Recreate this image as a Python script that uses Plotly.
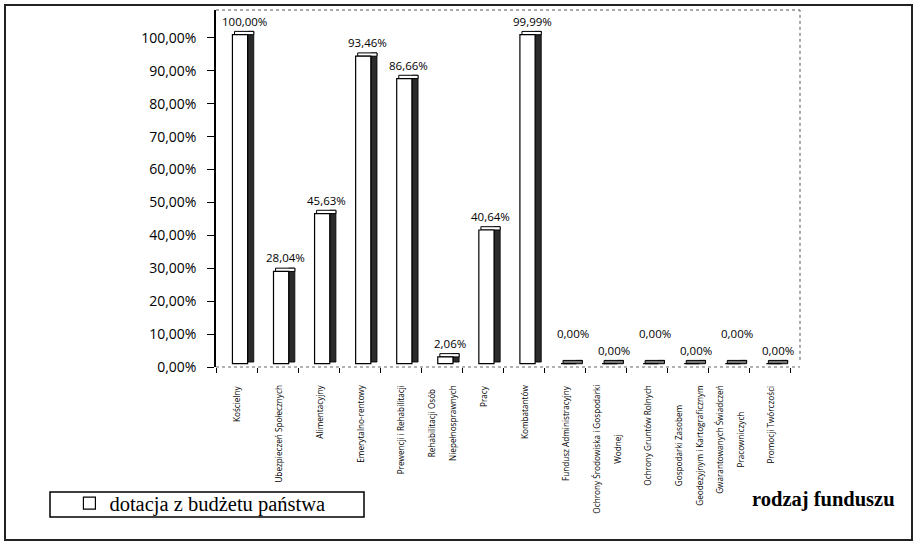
import plotly.graph_objects as go

# ---- data ----
categories = [
    "Kościelny",
    "Ubezpieczeń Społecznych",
    "Alimentacyjny",
    "Emerytalno-rentowy",
    "Prewencji i Rehabilitacji",
    "Rehabilitacji Osób<br> <br>Niepełnosprawnych",
    "Pracy",
    "Kombatantów",
    "Fundusz Administracyjny",
    "Ochrony Środowiska i Gospodarki<br> <br>Wodnej",
    "Ochrony Gruntów Rolnych",
    "Gospodarki Zasobem<br> <br>Geodezyjnym i Kartograficznym",
    "Gwarantowanych Świadczeń<br> <br>Pracowniczych",
    "Promocji Twórczości",
]
values = [100.00, 28.04, 45.63, 93.46, 86.66, 2.06, 40.64, 99.99, 0.00, 0.00, 0.00, 0.00, 0.00, 0.00]
series_name = "dotacja z budżetu państwa"
axis_title = "rodzaj funduszu"
ytick_vals = [0, 10, 20, 30, 40, 50, 60, 70, 80, 90, 100]
ytick_text = [f"{t:.2f}".replace(".", ",") + "%" for t in ytick_vals]
# extra lift (px) of data labels to avoid collisions (as in the original)
label_lift = [0, 0, 0, 0, 0, 0, 0, 0, 17, 0, 17, 0, 17, 0]

# ---- style ----
FLOOR = 1.0      # 3D floor offset (in axis units)
DEPTH = 1.0      # 3D depth (vertical, axis units)
xidx = list(range(len(categories)))

fig = go.Figure()

# side face (dark)
fig.add_trace(go.Bar(
    x=xidx, y=[v + DEPTH * 0.5 for v in values], base=FLOOR + DEPTH * 0.5,
    offset=0.27, width=0.15,
    marker=dict(color="#2b2b2b", line=dict(color="#000", width=0.8)),
    showlegend=False, hoverinfo="skip",
))
# top face
fig.add_trace(go.Bar(
    x=xidx, y=[DEPTH] * len(values), base=[v + FLOOR for v in values],
    offset=-0.05, width=0.47,
    marker=dict(color=["#777" if v == 0 else "white" for v in values],
                line=dict(color="#000", width=1)),
    showlegend=False, hoverinfo="skip",
))
# front face
fig.add_trace(go.Bar(
    x=xidx, y=values, base=FLOOR,
    offset=-0.10, width=0.37,
    name=series_name,
    marker=dict(color="white", line=dict(color="#000", width=1.2)),
    showlegend=True, hoverinfo="skip",
))

annotations = []
# data labels
for i, v in enumerate(values):
    annotations.append(dict(
        x=i, y=v + FLOOR, xref="x", yref="y",
        text=f"{v:.2f}".replace(".", ",") + "%",
        showarrow=False, xanchor="center", yanchor="bottom",
        xshift=8, yshift=4 + label_lift[i],
        font=dict(family="Open Sans, Lato, sans-serif", size=11.5, color="#000"),
    ))
# category labels (rotated, centered lines)
for i, c in enumerate(categories):
    annotations.append(dict(
        x=i, y=0, xref="x", yref="paper",
        text=c, textangle=-90, align="center",
        showarrow=False, xanchor="center", yanchor="top",
        yshift=-16,
        font=dict(family="Open Sans, sans-serif", size=8.2, color="#000"),
    ))
# axis title
annotations.append(dict(
    x=1.166, y=-0.372, xref="paper", yref="paper",
    text="<b>" + axis_title + "</b>", showarrow=False,
    xanchor="right", yanchor="middle",
    font=dict(family="Liberation Serif, Times New Roman, serif", size=20.5, color="#000"),
))

shapes = [
    # outer frame
    dict(type="rect", xref="paper", yref="paper", xsizemode="pixel", ysizemode="pixel",
         xanchor=0, yanchor=0, x0=-211, x1=696, y0=-173, y1=362,
         line=dict(color="#222", width=2)),
    # legend box
    dict(type="rect", xref="paper", yref="paper", xsizemode="pixel", ysizemode="pixel",
         xanchor=0, yanchor=0, x0=-166, x1=148, y0=-150, y1=-125,
         line=dict(color="#000", width=1.5)),
    # plot area top & right (dotted)
    dict(type="line", xref="paper", yref="paper", x0=0, x1=1, y0=1, y1=1,
         line=dict(color="#555", width=1, dash="dot")),
    dict(type="line", xref="paper", yref="paper", x0=1, x1=1, y0=0.02, y1=1,
         line=dict(color="#555", width=1, dash="dot")),
    # x baseline (dotted)
    dict(type="line", xref="paper", yref="paper", x0=0, x1=1, y0=0, y1=0,
         line=dict(color="#666", width=1, dash="dot")),
]

fig.update_layout(
    width=917, height=546,
    margin=dict(l=216, r=117, t=10, b=179),
    paper_bgcolor="white", plot_bgcolor="white",
    barmode="overlay",
    showlegend=True,
    legend=dict(
        x=-0.251, y=-0.326, xanchor="left", yanchor="top",
        bgcolor="rgba(0,0,0,0)", borderwidth=0,
        font=dict(family="Liberation Serif, Times New Roman, serif", size=20.5, color="#000"),
    ),
    xaxis=dict(
        type="linear", range=[-0.5, 13.72],
        tickmode="array", tickvals=[i - 0.5 for i in range(len(categories) + 1)],
        showticklabels=False, ticks="outside", ticklen=5, tickcolor="#000",
        showgrid=False, zeroline=False, showline=False,
    ),
    yaxis=dict(
        range=[0, 108.5],
        tickmode="array", tickvals=ytick_vals, ticktext=ytick_text,
        ticks="outside", ticklen=7, tickcolor="#000",
        ticklabelstandoff=8,
        tickfont=dict(family="Open Sans, Lato, sans-serif", size=14, color="#000"),
        showgrid=False, zeroline=False,
        showline=True, linecolor="#000", linewidth=1.5,
    ),
    annotations=annotations,
    shapes=shapes,
)

fig.write_html("out.html", config={"displayModeBar": False},
               post_script="document.body.style.margin='0';")
